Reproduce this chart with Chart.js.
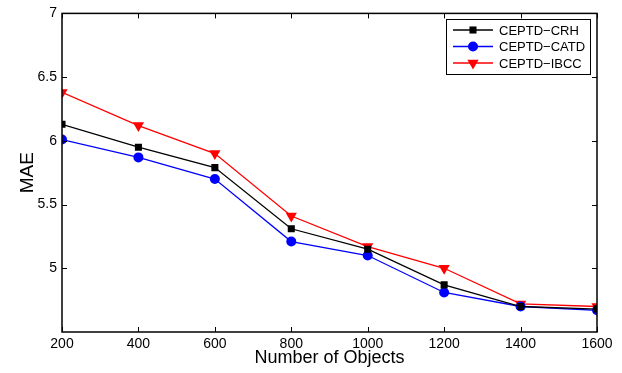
<!DOCTYPE html>
<html>
<head>
<meta charset="utf-8">
<script src="https://cdn.jsdelivr.net/npm/chart.js@4/dist/chart.umd.min.js"></script>
<style>
    html, body { margin: 0; padding: 0; background: #fff; }
    #wrap { width: 622px; height: 373px; position: relative; }
</style>
</head>
<body>
<div id="wrap"><canvas id="grafico"></canvas></div>
<script>
// dados
const objetos = [200, 400, 600, 800, 1000, 1200, 1400, 1600];
const crh  = [6.13, 5.95, 5.79, 5.31, 5.15, 4.87, 4.70, 4.68];
const catd = [6.01, 5.87, 5.70, 5.21, 5.10, 4.81, 4.70, 4.67];
const ibcc = [6.38, 6.12, 5.90, 5.41, 5.17, 5.00, 4.72, 4.70];
const yTicks = [5, 5.5, 6, 6.5, 7];

const fonte = '"Liberation Sans", Arial, sans-serif';

function serie(nome, valores, cor, estilo, raio, rot) {
    return {
        label: nome,
        data: objetos.map((x, i) => ({ x: x, y: valores[i] })),
        borderColor: cor,
        backgroundColor: cor,
        borderWidth: 1.3,
        pointStyle: estilo,
        pointRadius: raio,
        pointRotation: rot,
        pointBorderWidth: 0,
        tension: 0
    };
}

// moldura estilo MATLAB com ticks para dentro + legenda
const moldura = {
    id: 'moldura',
    afterDraw(chart) {
        const ctx = chart.ctx;
        const a = chart.chartArea;
        const sx = chart.scales.x, sy = chart.scales.y;
        ctx.save();
        ctx.strokeStyle = '#000';
        ctx.lineWidth = 1.5;
        ctx.strokeRect(a.left, a.top, a.right - a.left, a.bottom - a.top);
        ctx.lineWidth = 1;
        ctx.beginPath();
        objetos.forEach(v => {
            const px = Math.round(sx.getPixelForValue(v)) + 0.5;
            ctx.moveTo(px, a.bottom); ctx.lineTo(px, a.bottom - 5);
            ctx.moveTo(px, a.top); ctx.lineTo(px, a.top + 5);
        });
        yTicks.forEach(v => {
            const py = Math.round(sy.getPixelForValue(v)) + 0.5;
            ctx.moveTo(a.left, py); ctx.lineTo(a.left + 5, py);
            ctx.moveTo(a.right, py); ctx.lineTo(a.right - 5, py);
        });
        ctx.stroke();

        // legenda
        const bx = 446, by = 19, bw = 144, bh = 55;
        ctx.fillStyle = '#fff';
        ctx.fillRect(bx, by, bw, bh);
        ctx.lineWidth = 1;
        ctx.strokeRect(bx + 0.5, by + 0.5, bw, bh);
        const linhas = [30, 46.5, 63];
        chart.data.datasets.forEach((ds, i) => {
            const y = linhas[i];
            ctx.strokeStyle = ds.borderColor;
            ctx.lineWidth = 1.3;
            ctx.beginPath();
            ctx.moveTo(453, y); ctx.lineTo(493, y);
            ctx.stroke();
            ctx.fillStyle = ds.backgroundColor;
            Chart.helpers.drawPoint(ctx, {
                pointStyle: ds.pointStyle, radius: ds.pointRadius,
                rotation: ds.pointRotation, borderWidth: 0
            }, 473, y);
            ctx.fillStyle = '#000';
            ctx.font = '13px ' + fonte;
            ctx.textBaseline = 'middle';
            ctx.fillText(ds.label, 499, y + 1);
        });
        ctx.restore();
    }
};

new Chart(document.getElementById('grafico'), {
    type: 'line',
    data: {
        datasets: [
            serie('CEPTD\u2212CRH', crh, '#000000', 'rect', 5, 0),
            serie('CEPTD\u2212CATD', catd, '#0000ff', 'circle', 5, 0),
            serie('CEPTD\u2212IBCC', ibcc, '#ff0000', 'triangle', 6.5, 180)
        ]
    },
    options: {
        responsive: true, maintainAspectRatio: false,
        animation: false,
        layout: { padding: { left: 0, right: 25, top: 13, bottom: 4 } },
        plugins: { legend: { display: false }, tooltip: { enabled: false } },
        scales: {
            x: {
                type: 'linear', min: 200, max: 1600,
                afterBuildTicks: s => { s.ticks = objetos.map(v => ({ value: v })); },
                afterFit: s => { s.height = 37; },
                grid: { display: false, drawTicks: false, tickLength: 0 },
                border: { display: false },
                ticks: { color: '#000', font: { family: fonte, size: 14 }, padding: 4, maxRotation: 0,
                         callback: v => String(v) },
                title: { display: true, text: 'Number of Objects', color: '#000',
                         font: { family: fonte, size: 18 }, padding: { top: 0, bottom: 0 } }
            },
            y: {
                min: 4.5, max: 7,
                afterBuildTicks: s => { s.ticks = yTicks.map(v => ({ value: v })); },
                afterFit: s => { s.width = 62; },
                grid: { display: false, drawTicks: false, tickLength: 0 },
                border: { display: false },
                ticks: { color: '#000', font: { family: fonte, size: 14 }, padding: 5,
                         callback: v => String(v) },
                title: { display: true, text: 'MAE', color: '#000',
                         font: { family: fonte, size: 19 }, padding: { top: 16, bottom: 0 } }
            }
        }
    },
    plugins: [moldura]
});
</script>
</body>
</html>
